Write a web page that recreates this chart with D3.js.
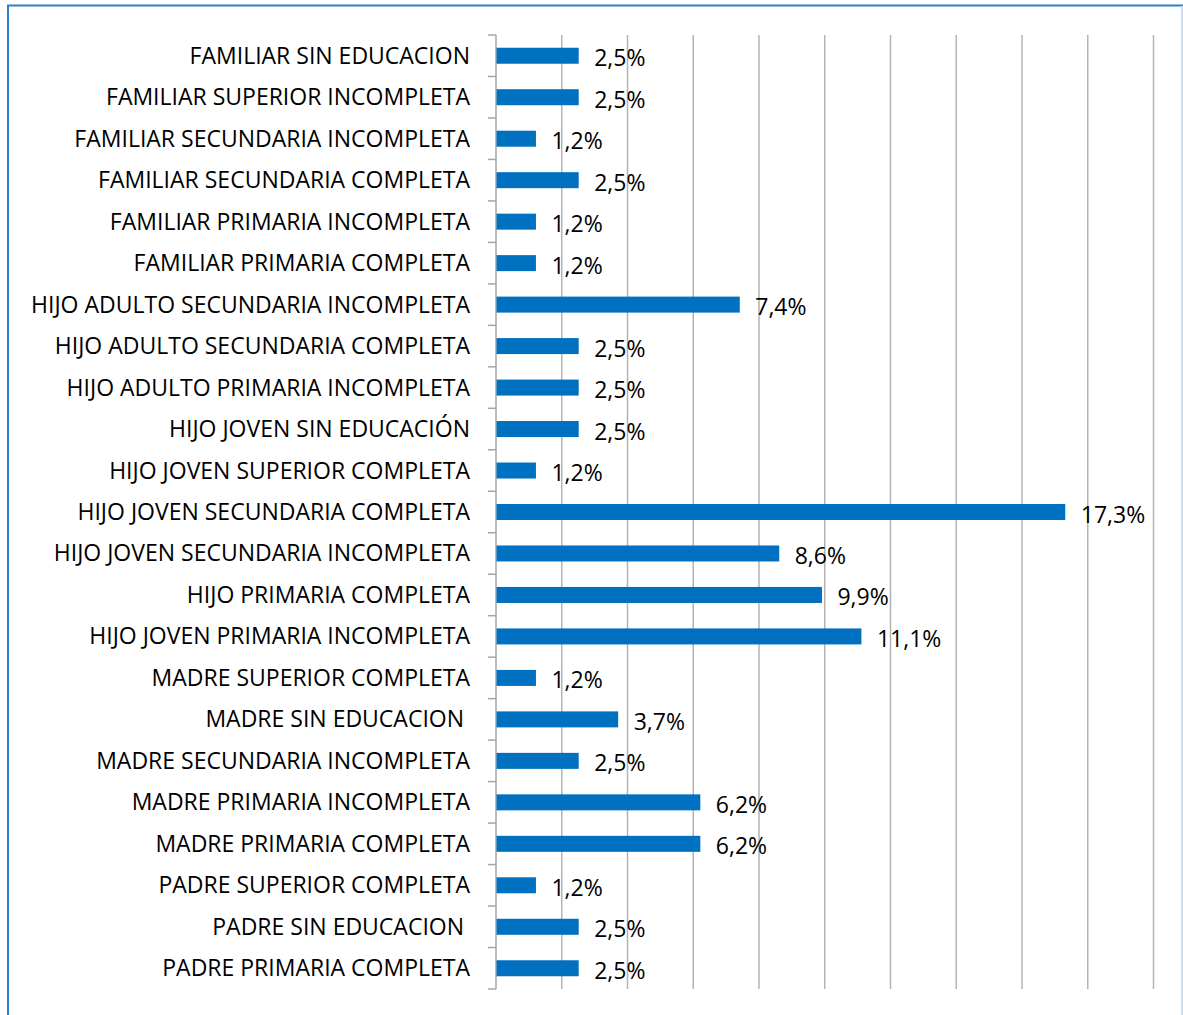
<!DOCTYPE html>
<html>
<head>
<meta charset="utf-8">
<script src="https://cdn.jsdelivr.net/npm/d3@7"></script>
<style>
  body { margin: 0; background: #fff; }
  text { white-space: pre; }
</style>
</head>
<body>
<script>
// categories top to bottom
const categories = [
  "FAMILIAR SIN EDUCACION",
  "FAMILIAR SUPERIOR INCOMPLETA",
  "FAMILIAR SECUNDARIA INCOMPLETA",
  "FAMILIAR SECUNDARIA COMPLETA",
  "FAMILIAR PRIMARIA INCOMPLETA",
  "FAMILIAR PRIMARIA COMPLETA",
  "HIJO ADULTO SECUNDARIA INCOMPLETA",
  "HIJO ADULTO SECUNDARIA COMPLETA",
  "HIJO ADULTO PRIMARIA INCOMPLETA",
  "HIJO JOVEN SIN EDUCACIÓN",
  "HIJO JOVEN SUPERIOR COMPLETA",
  "HIJO JOVEN SECUNDARIA COMPLETA",
  "HIJO JOVEN SECUNDARIA INCOMPLETA",
  "HIJO PRIMARIA COMPLETA",
  "HIJO JOVEN PRIMARIA INCOMPLETA",
  "MADRE SUPERIOR COMPLETA",
  "MADRE SIN EDUCACION ",
  "MADRE SECUNDARIA INCOMPLETA",
  "MADRE PRIMARIA INCOMPLETA",
  "MADRE PRIMARIA COMPLETA",
  "PADRE SUPERIOR COMPLETA",
  "PADRE SIN EDUCACION ",
  "PADRE PRIMARIA COMPLETA"
];
const values = [2.5, 2.5, 1.2, 2.5, 1.2, 1.2, 7.4, 2.5, 2.5, 2.5, 1.2, 17.3, 8.6, 9.9, 11.1,
  1.2, 3.7, 2.5, 6.2, 6.2, 1.2, 2.5, 2.5];
const gridTicks = [0, 2, 4, 6, 8, 10, 12, 14, 16, 18, 20];

let w = 1183;
let h = 1015;
let plotL = 496, plotR = 1153.5, plotT = 35, plotB = 989;
let font = "'Open Sans', sans-serif";

let svg = d3.select("body").append("svg").attr("width", w).attr("height", h);

// frame
svg.append("rect")
  .attr("x", 8).attr("y", 5.5)
  .attr("width", 1174).attr("height", 1020)
  .attr("fill", "none")
  .attr("stroke", "#2f80d0")
  .attr("stroke-width", 2);
svg.append("line")
  .attr("x1", 1182).attr("x2", 1182).attr("y1", 6).attr("y2", h)
  .attr("stroke", "#c6ddf3").attr("stroke-width", 2);

let x = d3.scaleLinear().domain([0, 20]).range([plotL, plotR]);
let y = d3.scaleBand().domain(categories).range([plotT, plotB]).paddingInner(0).paddingOuter(0);

// vertical gridlines
svg.append("g")
  .selectAll("line")
  .data(gridTicks.slice(1))
  .enter()
  .append("line")
  .attr("x1", d => x(d)).attr("x2", d => x(d))
  .attr("y1", plotT).attr("y2", plotB)
  .attr("stroke", "#b3b3b3")
  .attr("stroke-width", 1.5);

// category axis with ticks at band boundaries
let bounds = categories.map(c => y(c)).concat([plotB]);
svg.append("line")
  .attr("x1", plotL).attr("x2", plotL).attr("y1", plotT).attr("y2", plotB)
  .attr("stroke", "#a6a6a6").attr("stroke-width", 1.5);
svg.append("g")
  .selectAll("line")
  .data(bounds)
  .enter()
  .append("line")
  .attr("x1", plotL - 8).attr("x2", plotL)
  .attr("y1", d => d).attr("y2", d => d)
  .attr("stroke", "#a6a6a6").attr("stroke-width", 1.5);

// bars
let barH = 16;
svg.selectAll("rect.bar")
  .data(values)
  .enter()
  .append("rect")
  .attr("class", "bar")
  .attr("x", x(0) + 0.5)
  .attr("y", (d, i) => y(categories[i]) + y.bandwidth() / 2 - barH / 2)
  .attr("width", d => x(d) - x(0))
  .attr("height", barH)
  .attr("fill", "#0070c0");

// category labels
svg.selectAll("text.cat")
  .data(categories)
  .enter()
  .append("text")
  .attr("class", "cat")
  .text(d => d)
  .attr("x", 470)
  .attr("y", d => y(d) + y.bandwidth() / 2 + 8)
  .attr("text-anchor", "end")
  .attr("font-family", font)
  .attr("font-size", "23px")
  .attr("fill", "#000");

// value labels
let fmt = d => d.toFixed(1).replace(".", ",") + "%";
svg.selectAll("text.val")
  .data(values)
  .enter()
  .append("text")
  .attr("class", "val")
  .text(d => fmt(d))
  .attr("x", d => x(d) + 16)
  .attr("y", (d, i) => y(categories[i]) + y.bandwidth() / 2 + 10.5)
  .attr("font-family", font)
  .attr("font-size", "23px")
  .attr("fill", "#000");
</script>
</body>
</html>
